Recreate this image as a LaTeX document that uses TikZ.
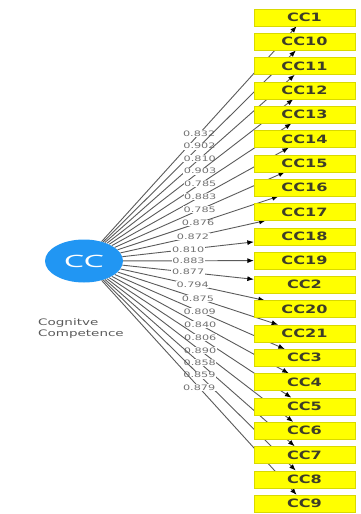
\documentclass[tikz,border=0pt]{standalone}
\usepackage{fontspec}
\usepackage{xcolor}
\usepackage{tikz}
\usetikzlibrary{positioning,arrows.meta,backgrounds,shapes.geometric}
\newfontfamily\constructfont[FakeStretch=1.9]{Open Sans}
\newfontfamily\indicatorfont[FakeStretch=1.4]{DejaVu Sans}
\newfontfamily\smallfont[FakeStretch=1.5]{DejaVu Sans}
\definecolor{PLSBlue}{RGB}{33,150,243}
\definecolor{PLSYellow}{RGB}{255,255,0}
\definecolor{PLSText}{RGB}{62,62,40}
\definecolor{PLSLine}{RGB}{90,90,90}
\definecolor{PLSGray}{RGB}{115,115,115}
\tikzset{
    construct/.style={ellipse, fill=PLSBlue, minimum width=78pt, minimum height=43pt, inner sep=0pt, text=white, font=\constructfont\fontsize{17}{17}\selectfont},
    indicator/.style={rectangle, fill=PLSYellow, draw=PLSYellow!85!black, line width=0.3pt, minimum width=101pt, minimum height=17pt, inner sep=0pt, text=PLSText, font=\indicatorfont\bfseries\fontsize{11.5}{12}\selectfont},
    link/.style={draw=PLSLine, line width=0.9pt, -{Latex[length=6.5pt, width=5pt, black]}}
}

\begin{document}
\begin{tikzpicture}[
        x=1pt, y=-1pt,
        node distance=7pt,
        % --- CHU THICH ---
        loading/.style={fill=white, inner sep=0.6pt, text=PLSGray, font=\smallfont\fontsize{7.5}{8}\selectfont},
        caption_txt/.style={align=left, text=PLSLine, font=\smallfont\fontsize{9}{11}\selectfont}
    ]
        \useasboundingbox (0,0) rectangle (361,514);

        % --- BIEN TIEM AN ---
        \node[construct, label={[caption_txt, yshift=-32pt, xshift=-3pt]below:Cognitve\\Competence}] (cc) at (84,261) {CC};

        % --- CHI BAO ---
        \node[indicator] (cc1) at (304.5,17.5) {CC1};
        \node[indicator, below=of cc1] (cc10) {CC10};
        \node[indicator, below=of cc10] (cc11) {CC11};
        \node[indicator, below=of cc11] (cc12) {CC12};
        \node[indicator, below=of cc12] (cc13) {CC13};
        \node[indicator, below=of cc13] (cc14) {CC14};
        \node[indicator, below=of cc14] (cc15) {CC15};
        \node[indicator, below=of cc15] (cc16) {CC16};
        \node[indicator, below=of cc16] (cc17) {CC17};
        \node[indicator, below=of cc17] (cc18) {CC18};
        \node[indicator, below=of cc18] (cc19) {CC19};
        \node[indicator, below=of cc19] (cc2) {CC2};
        \node[indicator, below=of cc2] (cc20) {CC20};
        \node[indicator, below=of cc20] (cc21) {CC21};
        \node[indicator, below=of cc21] (cc3) {CC3};
        \node[indicator, below=of cc3] (cc4) {CC4};
        \node[indicator, below=of cc4] (cc5) {CC5};
        \node[indicator, below=of cc5] (cc6) {CC6};
        \node[indicator, below=of cc6] (cc7) {CC7};
        \node[indicator, below=of cc7] (cc8) {CC8};
        \node[indicator, below=of cc8] (cc9) {CC9};

        % --- HE SO TAI ---
        \begin{scope}[on background layer]
            \draw[link] (cc) -- node[loading] {0.832} (cc1);
            \draw[link] (cc) -- node[loading] {0.902} (cc10);
            \draw[link] (cc) -- node[loading] {0.810} (cc11);
            \draw[link] (cc) -- node[loading] {0.903} (cc12);
            \draw[link] (cc) -- node[loading] {0.785} (cc13);
            \draw[link] (cc) -- node[loading] {0.883} (cc14);
            \draw[link] (cc) -- node[loading] {0.785} (cc15);
            \draw[link] (cc) -- node[loading] {0.876} (cc16);
            \draw[link] (cc) -- node[loading] {0.872} (cc17);
            \draw[link] (cc) -- node[loading] {0.810} (cc18);
            \draw[link] (cc) -- node[loading] {0.883} (cc19);
            \draw[link] (cc) -- node[loading] {0.877} (cc2);
            \draw[link] (cc) -- node[loading] {0.794} (cc20);
            \draw[link] (cc) -- node[loading] {0.875} (cc21);
            \draw[link] (cc) -- node[loading] {0.809} (cc3);
            \draw[link] (cc) -- node[loading] {0.840} (cc4);
            \draw[link] (cc) -- node[loading] {0.806} (cc5);
            \draw[link] (cc) -- node[loading] {0.890} (cc6);
            \draw[link] (cc) -- node[loading] {0.858} (cc7);
            \draw[link] (cc) -- node[loading] {0.859} (cc8);
            \draw[link] (cc) -- node[loading] {0.879} (cc9);
        \end{scope}

    \end{tikzpicture}
\end{document}
